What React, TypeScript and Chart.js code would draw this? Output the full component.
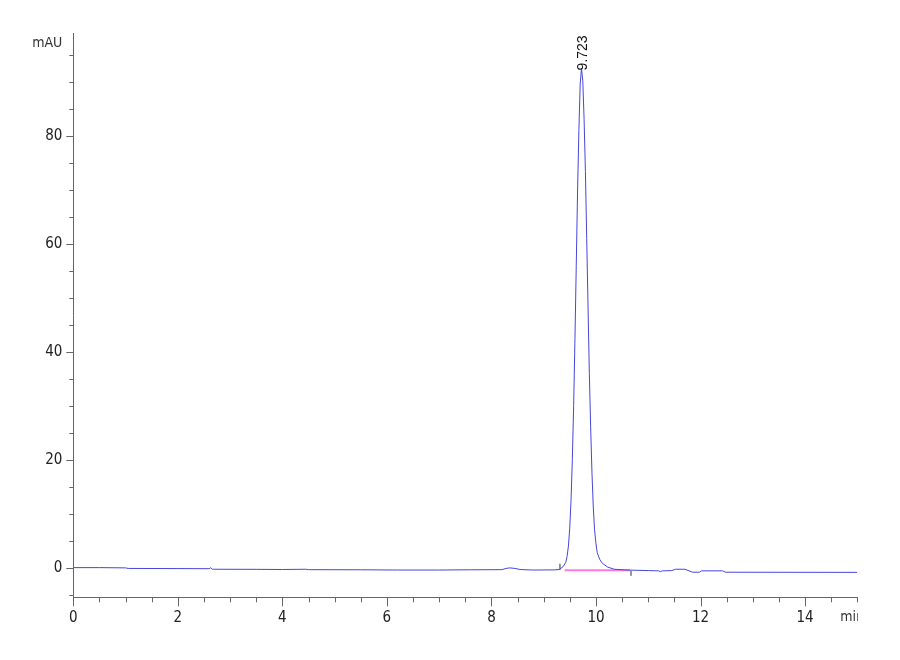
import { useEffect, useRef } from "react";
import { Chart, registerables } from "chart.js";

Chart.register(...registerables);

// Chromatogram trace (retention time in min, absorbance in mAU)
const times = [
  0, 0.5, 1.0, 1.05, 2.0, 2.6, 2.63, 2.66, 3.5, 4.0, 4.45, 4.5, 5.5, 6.2, 7.0, 7.6, 8.2, 8.28, 8.35, 8.45,
  8.55, 8.8, 9.2, 9.3, 9.373, 9.423, 9.448, 9.473, 9.498, 9.523, 9.548, 9.573, 9.598, 9.623, 9.648, 9.673,
  9.698, 9.723, 9.748, 9.773, 9.798, 9.823, 9.848, 9.873, 9.898, 9.923, 9.948, 9.973, 9.998, 10.023,
  10.073, 10.123, 10.223, 10.35, 10.6, 11.0, 11.2, 11.23, 11.27, 11.45, 11.52, 11.7, 11.78, 11.85, 11.98,
  12.02, 12.42, 12.48, 15.0,
];
const signal = [
  0.0, 0.0, -0.05, -0.15, -0.18, -0.2, -0.02, -0.3, -0.32, -0.35, -0.3, -0.38, -0.4, -0.45, -0.45, -0.4,
  -0.38, -0.15, -0.05, -0.15, -0.35, -0.45, -0.42, -0.35, 0.2, 1.0, 2.1, 4.0, 7.3, 12.5, 20, 30, 42.4, 56,
  69.8, 81, 89.6, 92.5, 90.2, 83, 73.4, 61, 48.5, 36, 26.1, 17.7, 11.4, 7, 4.6, 2.8, 1.5, 0.8, 0.1, -0.3,
  -0.45, -0.55, -0.6, -0.75, -0.6, -0.55, -0.3, -0.3, -0.6, -0.85, -0.85, -0.6, -0.6, -0.85, -0.88,
];

// Integration baseline and event marks
const baselineTimes = [9.4, 10.65];
const baselineValues = [-0.5, -0.5];
const startMarkTimes = [9.31, 9.31];
const startMarkValues = [0.7, -0.4];
const endMarkTimes = [10.67, 10.67];
const endMarkValues = [-0.6, -1.5];

// Axes
const xTickValues = [0, 2, 4, 6, 8, 10, 12, 14];
const yTickValues = [0, 20, 40, 60, 80];
const peakTime = 9.723;
const peakLabel = "9.723";
const yUnit = "mAU";
const xUnit = "min";

const NARROW = "'Liberation Sans Narrow', 'DejaVu Sans Condensed', 'Liberation Sans', Arial, sans-serif";
const REGULAR = "'Liberation Sans', Arial, sans-serif";

const toPoints = (xs: number[], ys: number[]) => xs.map((x, i) => ({ x, y: ys[i] }));

const axisPlugin = {
  id: "hplcAxis",
  afterDraw(chart: any) {
    const { ctx, scales, chartArea } = chart;
    const x = scales.x;
    const y = scales.y;
    ctx.save();
    ctx.strokeStyle = "#666";
    ctx.lineWidth = 1;
    ctx.beginPath();
    for (let v = 0; v <= 15.001; v += 0.5) {
      const px = Math.round(x.getPixelForValue(v)) + 0.5;
      const len = Math.abs(v % 2) < 1e-6 ? 9 : 5;
      ctx.moveTo(px, chartArea.bottom);
      ctx.lineTo(px, chartArea.bottom + len);
    }
    for (let v = -5; v <= 95; v += 5) {
      const py = Math.round(y.getPixelForValue(v)) + 0.5;
      const len = v % 20 === 0 ? 7 : 4;
      ctx.moveTo(chartArea.left - len, py);
      ctx.lineTo(chartArea.left, py);
    }
    ctx.stroke();

    // Units
    ctx.fillStyle = "#333";
    ctx.font = "14px " + NARROW;
    ctx.textAlign = "right";
    ctx.textBaseline = "middle";
    ctx.fillText(yUnit, chartArea.left - 11, chartArea.top + 10);

    ctx.save();
    ctx.beginPath();
    ctx.rect(0, chartArea.bottom, chartArea.right + 0.5, 100);
    ctx.clip();
    ctx.textAlign = "left";
    ctx.font = "14px " + NARROW;
    ctx.fillText(xUnit, chartArea.right - 17, chartArea.bottom + 20);
    ctx.restore();

    // Peak label
    let peakValue = -Infinity;
    signal.forEach((s) => {
      if (s > peakValue) peakValue = s;
    });
    const px = x.getPixelForValue(peakTime);
    const py = y.getPixelForValue(peakValue);
    ctx.translate(px + 1.5, py + 2);
    ctx.rotate(-Math.PI / 2);
    ctx.fillStyle = "#111";
    ctx.font = "14px " + REGULAR;
    ctx.textAlign = "left";
    ctx.textBaseline = "middle";
    ctx.fillText(peakLabel, 0, 0);
    ctx.restore();
  },
};

export default function App() {
  const ref = useRef<HTMLCanvasElement | null>(null);

  useEffect(() => {
    if (!ref.current) return;
    const chart = new Chart(ref.current, {
      type: "line",
      data: {
        datasets: [
          {
            data: toPoints(times, signal),
            borderColor: "rgb(70,70,220)",
            borderWidth: 1,
            pointRadius: 0,
            tension: 0,
          },
          {
            data: toPoints(baselineTimes, baselineValues),
            borderColor: "rgb(255,120,230)",
            borderWidth: 2,
            pointRadius: 0,
          },
          {
            data: toPoints(startMarkTimes, startMarkValues),
            borderColor: "#888",
            borderWidth: 1,
            pointRadius: 0,
          },
          {
            data: toPoints(endMarkTimes, endMarkValues),
            borderColor: "#888",
            borderWidth: 1,
            pointRadius: 0,
          },
        ],
      },
      options: {
        animation: false,
        responsive: true,
        maintainAspectRatio: false,
        parsing: false,
        layout: { padding: { top: 33.3, right: 42.7, left: 0, bottom: 0 } },
        plugins: { legend: { display: false }, tooltip: { enabled: false } },
        scales: {
          x: {
            type: "linear",
            min: 0,
            max: 15,
            afterBuildTicks: (s: any) => {
              s.ticks = xTickValues.map((v) => ({ value: v }));
            },
            afterFit: (s: any) => {
              s.height = 62.7;
            },
            grid: { display: false, drawTicks: false },
            border: { display: true, color: "#666", width: 1 },
            ticks: {
              autoSkip: false,
              maxRotation: 0,
              padding: 12,
              color: "#222",
              font: { family: NARROW, size: 15 },
            },
          },
          y: {
            type: "linear",
            min: -5.5,
            max: 99,
            afterBuildTicks: (s: any) => {
              s.ticks = yTickValues.map((v) => ({ value: v }));
            },
            afterFit: (s: any) => {
              s.width = 73.3;
            },
            grid: { display: false, drawTicks: false },
            border: { display: true, color: "#666", width: 1 },
            ticks: {
              autoSkip: false,
              padding: 11,
              color: "#222",
              font: { family: NARROW, size: 15 },
            },
          },
        },
      },
      plugins: [axisPlugin],
    } as any);
    return () => chart.destroy();
  }, []);

  return (
    <div style={{ position: "fixed", left: 0, top: 0, width: 900, height: 660, background: "#fff" }}>
      <canvas ref={ref} />
    </div>
  );
}
